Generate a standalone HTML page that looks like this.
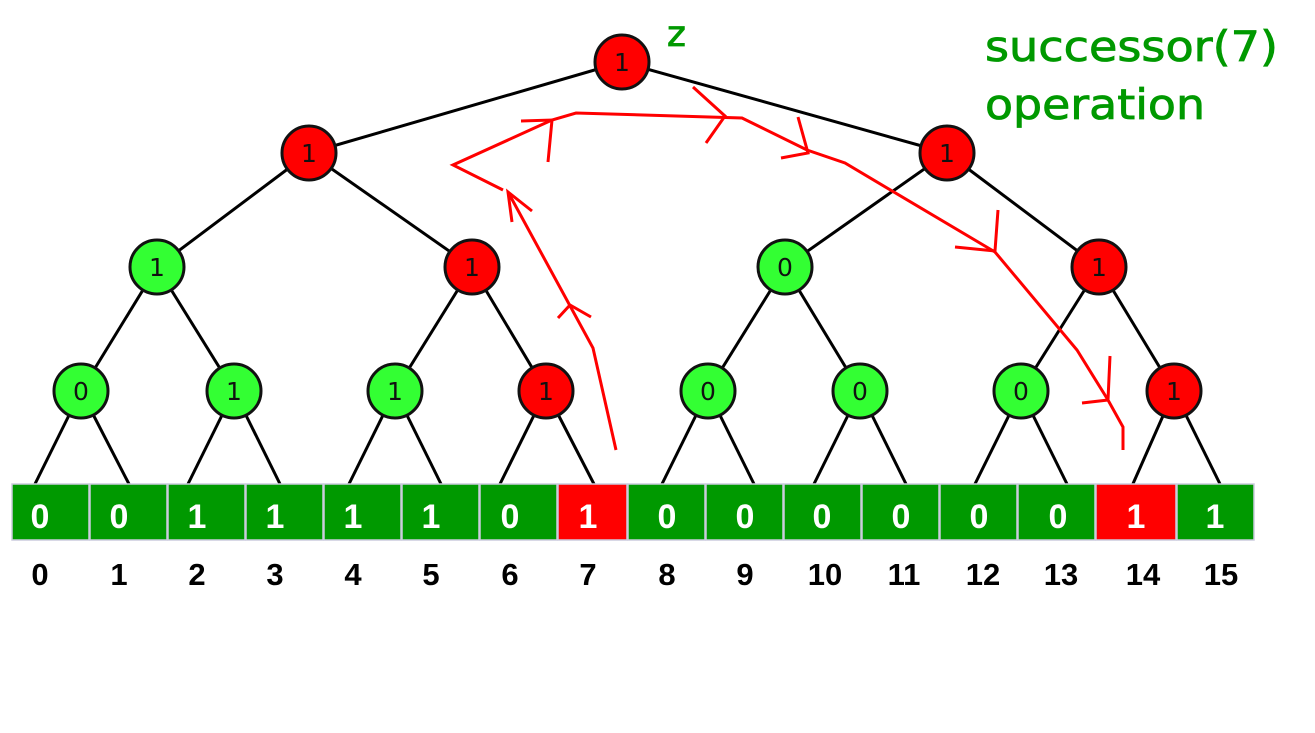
<!DOCTYPE html>
<html><head><meta charset="utf-8"><style>
html,body{margin:0;padding:0;background:#fff;}
svg{display:block;}
</style></head><body>
<svg width="1315" height="733" viewBox="0 0 1315 733" xmlns="http://www.w3.org/2000/svg" font-family="Liberation Sans, DejaVu Sans, sans-serif">
<g stroke="#000" stroke-width="3">
<line x1="622" y1="62" x2="309" y2="153"/><line x1="622" y1="62" x2="947" y2="153"/>
<line x1="309" y1="153" x2="157" y2="267"/><line x1="309" y1="153" x2="472" y2="267"/>
<line x1="947" y1="153" x2="785" y2="267"/><line x1="947" y1="153" x2="1099" y2="267"/>
<line x1="157" y1="267" x2="81" y2="391"/><line x1="157" y1="267" x2="234" y2="391"/>
<line x1="472" y1="267" x2="395" y2="391"/><line x1="472" y1="267" x2="546" y2="391"/>
<line x1="785" y1="267" x2="708" y2="391"/><line x1="785" y1="267" x2="860" y2="391"/>
<line x1="1099" y1="267" x2="1021" y2="391"/><line x1="1099" y1="267" x2="1174" y2="391"/>
<line x1="81" y1="391" x2="34" y2="486"/><line x1="81" y1="391" x2="130" y2="486"/>
<line x1="234" y1="391" x2="187" y2="486"/><line x1="234" y1="391" x2="281" y2="486"/>
<line x1="395" y1="391" x2="348" y2="486"/><line x1="395" y1="391" x2="442" y2="486"/>
<line x1="546" y1="391" x2="499" y2="486"/><line x1="546" y1="391" x2="595" y2="486"/>
<line x1="708" y1="391" x2="661" y2="486"/><line x1="708" y1="391" x2="755" y2="486"/>
<line x1="860" y1="391" x2="813" y2="486"/><line x1="860" y1="391" x2="907" y2="486"/>
<line x1="1021" y1="391" x2="974" y2="486"/><line x1="1021" y1="391" x2="1068" y2="486"/>
<line x1="1174" y1="391" x2="1132" y2="486"/><line x1="1174" y1="391" x2="1221" y2="486"/>
</g>
<g stroke="#111" stroke-width="3">
<circle cx="622" cy="62" r="27" fill="#f00"/>
<circle cx="309" cy="153" r="27" fill="#f00"/><circle cx="947" cy="153" r="27" fill="#f00"/>
<circle cx="157" cy="267" r="27" fill="#3f3"/><circle cx="472" cy="267" r="27" fill="#f00"/>
<circle cx="785" cy="267" r="27" fill="#3f3"/><circle cx="1099" cy="267" r="27" fill="#f00"/>
<circle cx="81" cy="391" r="27" fill="#3f3"/><circle cx="234" cy="391" r="27" fill="#3f3"/>
<circle cx="395" cy="391" r="27" fill="#3f3"/><circle cx="546" cy="391" r="27" fill="#f00"/>
<circle cx="708" cy="391" r="27" fill="#3f3"/><circle cx="860" cy="391" r="27" fill="#3f3"/>
<circle cx="1021" cy="391" r="27" fill="#3f3"/><circle cx="1174" cy="391" r="27" fill="#f00"/>
</g>
<g font-size="25" text-anchor="middle" fill="#111" font-family="DejaVu Sans, sans-serif">
<text x="622" y="71">1</text><text x="309" y="162">1</text><text x="947" y="162">1</text>
<text x="157" y="276">1</text><text x="472" y="276">1</text><text x="785" y="276">0</text><text x="1099" y="276">1</text>
<text x="81" y="400">0</text><text x="234" y="400">1</text><text x="395" y="400">1</text><text x="546" y="400">1</text>
<text x="708" y="400">0</text><text x="860" y="400">0</text><text x="1021" y="400">0</text><text x="1174" y="400">1</text>
</g>
<g stroke="#ccd" stroke-width="1.5">
<rect x="12" y="484" width="77" height="56" fill="#009900"/><rect x="90" y="484" width="77" height="56" fill="#009900"/>
<rect x="168" y="484" width="77" height="56" fill="#009900"/><rect x="246" y="484" width="77" height="56" fill="#009900"/>
<rect x="324" y="484" width="77" height="56" fill="#009900"/><rect x="402" y="484" width="77" height="56" fill="#009900"/>
<rect x="480" y="484" width="77" height="56" fill="#009900"/><rect x="558" y="484" width="69" height="56" fill="#f00"/>
<rect x="628" y="484" width="77" height="56" fill="#009900"/><rect x="706" y="484" width="77" height="56" fill="#009900"/>
<rect x="784" y="484" width="77" height="56" fill="#009900"/><rect x="862" y="484" width="77" height="56" fill="#009900"/>
<rect x="940" y="484" width="77" height="56" fill="#009900"/><rect x="1018" y="484" width="77" height="56" fill="#009900"/>
<rect x="1096" y="484" width="80" height="56" fill="#f00"/><rect x="1177" y="484" width="77" height="56" fill="#009900"/>
</g>
<g font-size="34" font-weight="bold" text-anchor="middle" fill="#fff">
<text x="40" y="528">0</text><text x="119" y="528">0</text><text x="197" y="528">1</text><text x="275" y="528">1</text>
<text x="353" y="528">1</text><text x="431" y="528">1</text><text x="510" y="528">0</text><text x="588" y="528">1</text>
<text x="667" y="528">0</text><text x="745" y="528">0</text><text x="822" y="528">0</text><text x="901" y="528">0</text>
<text x="979" y="528">0</text><text x="1058" y="528">0</text><text x="1136" y="528">1</text><text x="1215" y="528">1</text>
</g>
<g font-size="31" font-weight="bold" text-anchor="middle" fill="#000">
<text x="40" y="585">0</text><text x="119" y="585">1</text><text x="197" y="585">2</text><text x="275" y="585">3</text>
<text x="353" y="585">4</text><text x="431" y="585">5</text><text x="510" y="585">6</text><text x="588" y="585">7</text>
<text x="667" y="585">8</text><text x="745" y="585">9</text><text x="825" y="585">10</text><text x="904" y="585">11</text>
<text x="983" y="585">12</text><text x="1061" y="585">13</text><text x="1143" y="585">14</text><text x="1221" y="585">15</text>
</g>
<g fill="none" stroke="#f00" stroke-width="3">
<polyline points="616,450 593,348 508,192"/>
<polyline points="558,318 570,305 591,317"/>
<polyline points="512,222 508,192 532,211"/>
<polyline points="503,190 453,165 552,120 576,113 742,118 807,150 845,163 995,252 1077,350 1108,400 1123,427 1123,450"/>
<polyline points="521,121 552,120 548,162"/>
<polyline points="693,87 725,116 706,143"/>
<polyline points="798,117 808,153 781,158"/>
<polyline points="998,210 995,251 955,247"/>
<polyline points="1110,356 1108,400 1082,403"/>
</g>
<g font-family="DejaVu Sans, sans-serif" fill="#009900" stroke="#009900" stroke-width="0.8">
<text x="667" y="46" font-size="36">z</text>
<text x="985" y="61" font-size="42" textLength="293" lengthAdjust="spacingAndGlyphs">successor(7)</text>
<text x="985" y="119" font-size="42" textLength="220" lengthAdjust="spacingAndGlyphs">operation</text>
</g>
</svg>
</body></html>
